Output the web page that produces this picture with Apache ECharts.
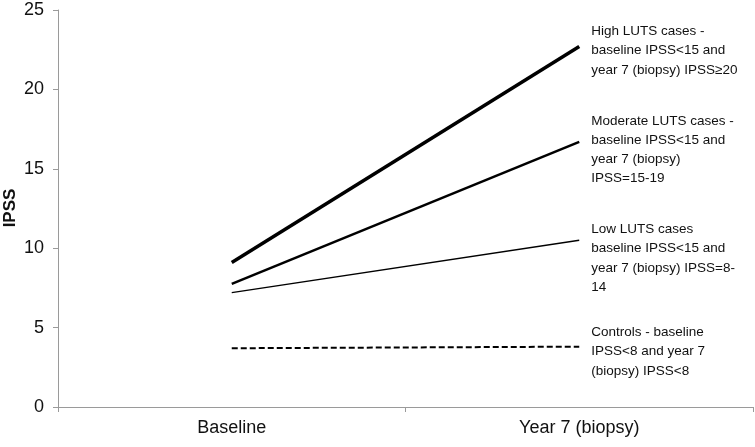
<!DOCTYPE html>
<html>
<head>
<meta charset="utf-8">
<script src="https://cdn.jsdelivr.net/npm/echarts@6/dist/echarts.min.js"></script>
<style>html,body{margin:0;padding:0;background:#fff}#c{width:755px;height:447px}</style>
</head>
<body>
<div id="c"></div>
<script>
const categories = ['Baseline', 'Year 7 (biopsy)'];
const highLUTS = [9.1, 22.7];
const moderateLUTS = [7.75, 16.7];
const lowLUTS = [7.2, 10.5];
const controls = [3.7, 3.8];
const seriesNames = [
  'High LUTS cases -\nbaseline IPSS<15 and\nyear 7 (biopsy) IPSS≥20',
  'Moderate LUTS cases -\nbaseline IPSS<15 and\nyear 7 (biopsy)\nIPSS=15-19',
  'Low LUTS cases\nbaseline IPSS<15 and\nyear 7 (biopsy) IPSS=8-\n14',
  'Controls - baseline\nIPSS<8 and year 7\n(biopsy) IPSS<8'
];
const yTicks = [0, 5, 10, 15, 20, 25];
const yTitle = 'IPSS';

const chart = echarts.init(document.getElementById('c'), null, {renderer: 'canvas'});
const font = 'Arial, "Liberation Sans", sans-serif';
function mk(name, data, width, type, dy) {
  return {
    name: name, type: 'line', data: data, symbol: 'none', silent: true,
    lineStyle: {color: '#000', width: width, type: type},
    endLabel: {
      show: true, formatter: name, color: '#111', fontFamily: font, fontSize: 13.5,
      lineHeight: 19.3, align: 'left', verticalAlign: 'middle', offset: [4, dy]
    },
    animation: false
  };
}
chart.setOption({
  animation: false,
  grid: {left: 58, right: 2, top: 10, bottom: 40, containLabel: false, outerBoundsMode: 'none'},
  graphic: [{
    type: 'text', x: 10, y: 208, rotation: Math.PI / 2, silent: true,
    style: {text: yTitle, fill: '#111', font: 'bold 17px Arial, "Liberation Sans", sans-serif',
            align: 'center', verticalAlign: 'middle'}
  }],
  xAxis: {
    type: 'category', data: categories, boundaryGap: true,
    axisLine: {lineStyle: {color: '#9a9a9a', width: 1}},
    axisTick: {show: true, length: 5, lineStyle: {color: '#9a9a9a'}},
    axisLabel: {color: '#111', fontFamily: font, fontSize: 18, margin: 12}
  },
  yAxis: {
    type: 'value', min: yTicks[0], max: yTicks[yTicks.length - 1], interval: 5,
    axisLine: {show: true, lineStyle: {color: '#9a9a9a', width: 1}},
    axisTick: {show: true, length: 5, lineStyle: {color: '#9a9a9a'}},
    axisLabel: {color: '#111', fontFamily: font, fontSize: 18, margin: 14},
    splitLine: {show: false}
  },
  series: [
    mk(seriesNames[0], highLUTS, 3.5, 'solid', 4),
    mk(seriesNames[1], moderateLUTS, 2.5, 'solid', 8),
    mk(seriesNames[2], lowLUTS, 1.3, 'solid', 18),
    mk(seriesNames[3], controls, 2, [6, 3], 5)
  ]
});
</script>
</body>
</html>
